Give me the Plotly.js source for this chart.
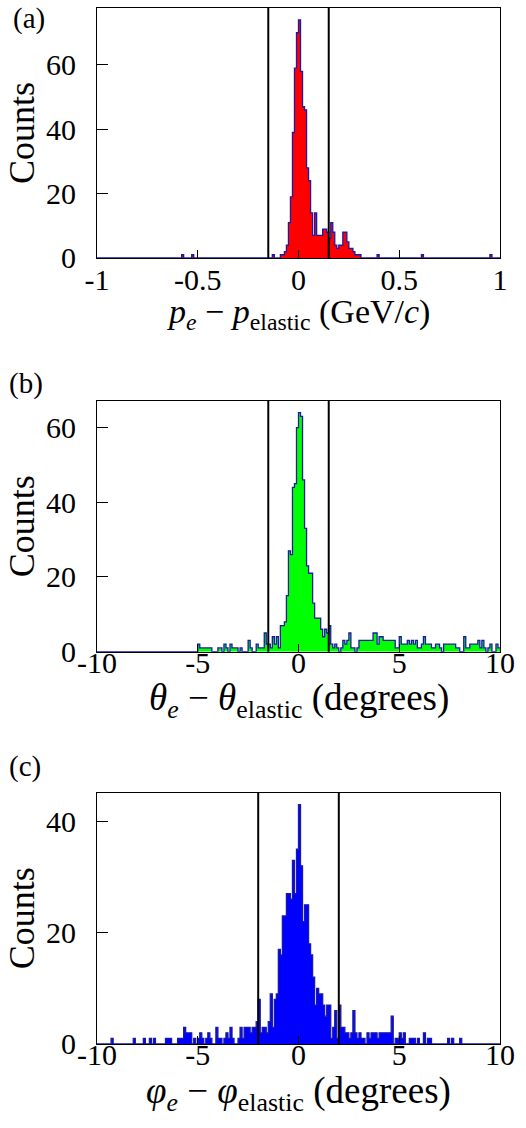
<!DOCTYPE html>
<html>
<head>
<meta charset="utf-8">
<script src="https://cdn.plot.ly/plotly-3.0.1.min.js"></script>
<style>
html,body{margin:0;padding:0;background:#fff;}
#chart{width:526px;height:1128px;}
</style>
</head>
<body>
<div id="chart"></div>
<script>
// ---------------- DATA ----------------
// (a) p_e - p_elastic, 200 bins from -1 to 1 GeV/c
const rangeA = [-1, 1];
const countsA = [
  0,0,0,0,0,0,0,0,0,0, 0,0,0,0,0,0,0,0,0,0,
  0,0,0,0,0,0,0,0,0,0, 0,0,0,0,0,0,0,0,0,0,
  0,0,1,0,0,0,0,1,0,0, 0,0,0,0,0,0,0,0,0,0,
  0,0,0,0,0,0,0,0,0,0, 0,0,0,0,0,0,0,0,0,0,
  0,0,0,0,0,0,0,1,0,0, 0,1,1,2,4,11,19,39,59,70,
  74,58,47,46,28,24,14,7,14,7, 7,7,9,9,8,6,11,8,4,3,
  4,4,8,8,5,3,3,2,1,1, 1,0,0,0,0,0,0,0,0,1,
  0,0,0,0,0,0,0,0,0,0, 0,0,0,0,0,0,0,0,0,0,
  0,1,0,0,0,0,0,0,0,0, 0,0,0,0,0,0,0,0,0,0,
  0,0,0,0,0,0,0,0,0,0, 0,0,0,0,0,1,0,0,0,0
];
const cutsA = [-0.15, 0.15];

// (b) theta_e - theta_elastic, 200 bins from -10 to 10 degrees
const rangeB = [-10, 10];
const countsB = [
  0,0,0,0,0,0,0,0,0,0, 0,0,0,0,0,0,0,0,0,0,
  0,0,0,0,0,0,0,0,0,0, 0,0,0,0,0,0,0,0,0,0,
  0,0,0,0,0,0,0,0,0,0, 2,1,1,1,1,1,1,0,0,0,
  1,1,0,2,1,0,2,1,1,1, 0,1,0,0,0,3,1,0,0,2,
  1,1,1,5,2,2,1,4,2,4, 1,7,7,8,15,27,26,44,45,60,
  64,63,46,33,23,21,21,13,9,9, 9,6,4,6,5,7,2,1,2,1,
  0,1,3,2,3,5,1,1,0,1, 3,3,3,3,3,3,3,5,5,2,
  4,4,3,3,3,3,3,3,1,1, 4,2,2,2,3,2,3,2,3,1,
  1,2,4,2,2,2,1,1,2,2, 1,0,2,2,2,2,2,2,1,1,
  0,0,4,1,1,2,2,2,2,3, 1,3,1,0,1,2,0,0,2,1
];
const cutsB = [-1.5, 1.5];

// (c) phi_e - phi_elastic, 200 bins from -10 to 10 degrees
const rangeC = [-10, 10];
const countsC = [
  0,0,0,0,0,0,0,1,0,0, 0,0,0,0,0,0,0,0,1,0,
  0,0,0,1,0,0,1,0,1,0, 0,0,0,0,1,1,1,0,0,0,
  1,1,1,3,2,2,2,0,1,0, 1,2,1,0,1,2,1,0,0,3,
  1,1,0,1,2,1,3,1,0,0, 1,3,1,3,3,3,2,3,3,4,
  8,2,3,3,2,4,9,3,8,9, 17,16,23,23,27,27,26,33,27,35,
  43,32,22,25,25,18,16,12,7,10, 9,9,7,5,7,7,1,3,6,1,
  7,3,3,2,2,1,2,6,2,1, 2,1,1,0,2,1,2,2,2,1,
  2,2,2,2,2,2,5,0,1,1, 2,1,2,0,0,1,1,1,0,1,
  0,0,2,0,1,1,0,0,0,0, 0,0,0,0,1,0,1,0,0,0,
  1,0,0,0,0,0,0,0,0,0, 0,0,0,0,0,0,0,0,0,0
];
const cutsC = [-2, 2];

const tickValsA = [-1, -0.5, 0, 0.5, 1];
const tickTextA = ['-1', '-0.5', '0', '0.5', '1'];
const tickValsBC = [-10, -5, 0, 5, 10];
const tickTextBC = ['-10', '-5', '0', '5', '10'];
const yTickValsAB = [0, 20, 40, 60];
const yTickValsC = [0, 20, 40];
const panelLabels = ['(a)', '(b)', '(c)'];
const xTitles = [
  '<i>p</i><sub><i>e</i></sub> \u2212 <i>p</i><sub>elastic</sub> (GeV/<i>c</i>)',
  '<i>\u03b8</i><sub><i>e</i></sub> \u2212 <i>\u03b8</i><sub>elastic</sub> (degrees)',
  '<i>\u03c6</i><sub><i>e</i></sub> \u2212 <i>\u03c6</i><sub>elastic</sub> (degrees)'
];
const yTitle = 'Counts';
const fillColors = ['#ff0000', '#00ff00', '#0000ff'];
const outlineColor = '#1a1aa8';

// ---------------- BUILD ----------------
const FONT = 'Liberation Serif, Times New Roman, serif';

function stepTrace(range, counts, fill, xa, ya) {
  const n = counts.length;
  const w = (range[1] - range[0]) / n;
  const x = [], y = [];
  for (let i = 0; i <= n; i++) {
    x.push(range[0] + i * w);
    y.push(counts[Math.min(i, n - 1)]);
  }
  return {
    type: 'scatter', mode: 'lines', x: x, y: y,
    line: {shape: 'hv', color: outlineColor, width: 1.3},
    fill: 'tozeroy', fillcolor: fill,
    xaxis: xa, yaxis: ya, hoverinfo: 'skip', showlegend: false
  };
}

const data = [
  stepTrace(rangeA, countsA, fillColors[0], 'x', 'y'),
  stepTrace(rangeB, countsB, fillColors[1], 'x2', 'y2'),
  stepTrace(rangeC, countsC, fillColors[2], 'x3', 'y3')
];

function xAxis(range, tv, tt, anchor, standoffLbl) {
  return {
    range: range, domain: [0, 1], anchor: anchor,
    tickmode: 'array', tickvals: tv, ticktext: tt,
    ticks: 'inside', ticklen: 8, tickwidth: 1, tickcolor: '#000',
    ticklabelstandoff: standoffLbl,
    showline: true, linecolor: '#000', linewidth: 1, mirror: true,
    showgrid: false, zeroline: false,
    tickfont: {family: FONT, size: 30, color: '#000'}
  };
}
function yAxis(maxCount, tv, anchor, domain) {
  return {
    range: [0, maxCount * 1.05], domain: domain, anchor: anchor,
    tickmode: 'array', tickvals: tv,
    ticks: 'inside', ticklen: 11, tickwidth: 1, tickcolor: '#000',
    ticklabelstandoff: 14,
    showline: true, linecolor: '#000', linewidth: 1, mirror: true,
    showgrid: false, zeroline: false,
    tickfont: {family: FONT, size: 30, color: '#000'},
    title: {text: yTitle, font: {family: FONT, size: 36, color: '#000'}, standoff: 0}
  };
}

const cutShapes = [];
[[cutsA, 'x', 'y'], [cutsB, 'x2', 'y2'], [cutsC, 'x3', 'y3']].forEach(function (c) {
  c[0].forEach(function (v) {
    cutShapes.push({type: 'line', xref: c[1], yref: c[2] + ' domain',
      x0: v, x1: v, y0: 0, y1: 1, line: {color: '#000', width: 2}});
  });
});

const domA = [0.7587, 1], domB = [0.3787, 0.6209], domC = [0, 0.2426];
const lblFont = {family: FONT, size: 29, color: '#000'};
function note(text, x, y, xanchor, yanchor, font) {
  return {text: text, xref: 'paper', yref: 'paper', x: x, y: y,
    xanchor: xanchor, yanchor: yanchor, showarrow: false, font: font};
}
const layout = {
  width: 526, height: 1128,
  margin: {l: 97, r: 26, t: 8, b: 84},
  paper_bgcolor: '#fff', plot_bgcolor: '#fff',
  showlegend: false,
  font: {family: FONT, color: '#000'},
  xaxis: xAxis(rangeA, tickValsA, tickTextA, 'y', -5),
  yaxis: yAxis(Math.max.apply(null, countsA), yTickValsAB, 'x', domA),
  xaxis2: xAxis(rangeB, tickValsBC, tickTextBC, 'y2', -16),
  yaxis2: yAxis(Math.max.apply(null, countsB), yTickValsAB, 'x2', domB),
  xaxis3: xAxis(rangeC, tickValsBC, tickTextBC, 'y3', -16),
  yaxis3: yAxis(Math.max.apply(null, countsC), yTickValsC, 'x3', domC),
  shapes: cutShapes,
  annotations: [
    note(panelLabels[0], -0.213, 1.0077, 'left', 'top', lblFont),
    note(panelLabels[1], -0.223, 0.638, 'left', 'middle', lblFont),
    note(panelLabels[2], -0.223, 0.2683, 'left', 'middle', lblFont),
    note(xTitles[0], 0.5, 0.727, 'center', 'top', {family: FONT, size: 34, color: '#000'}),
    note(xTitles[1], 0.5, 0.356, 'center', 'top', {family: FONT, size: 37, color: '#000'}),
    note(xTitles[2], 0.5, -0.0235, 'center', 'top', {family: FONT, size: 37, color: '#000'})
  ]
};

Plotly.newPlot('chart', data, layout, {staticPlot: true, displayModeBar: false});
</script>
</body>
</html>
